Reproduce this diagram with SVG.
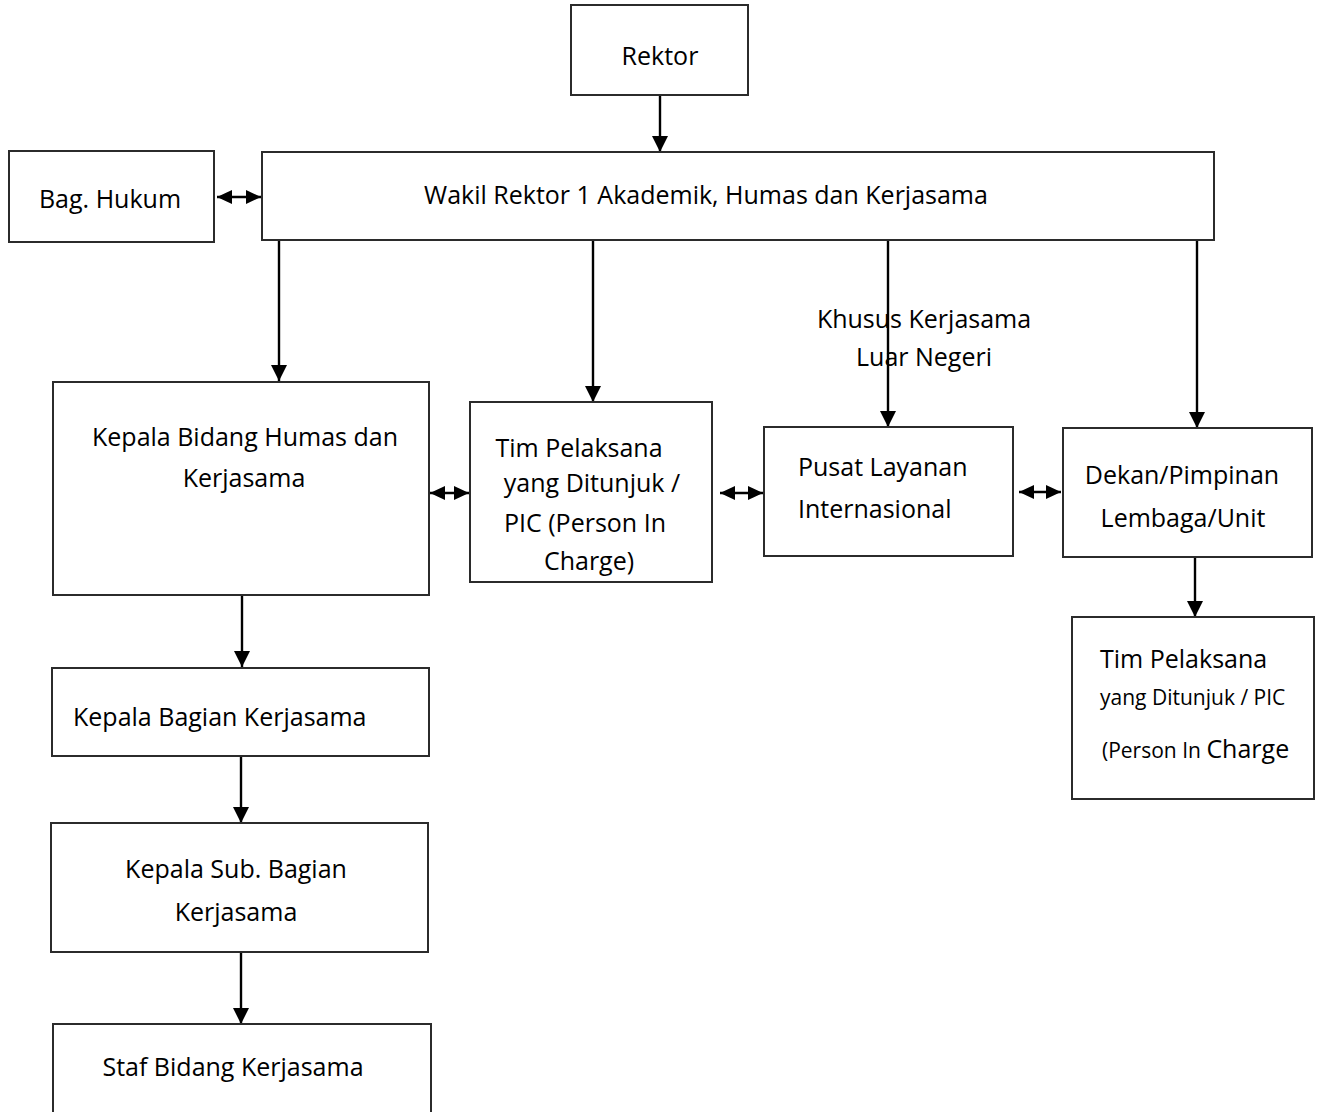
<svg xmlns="http://www.w3.org/2000/svg" width="1318" height="1112" viewBox="0 0 1318 1112">
<style>
.box{fill:#fff;stroke:#2b2b2b;stroke-width:2}
.t{font-family:"Open Sans","Noto Sans",sans-serif;font-size:25px;fill:#000}
.s{font-size:21px}
.ct{stroke:#000;stroke-width:2.4;fill:none;marker-end:url(#ah)}
.cb{stroke:#000;stroke-width:2.4;fill:none;marker-end:url(#ah2);marker-start:url(#as2)}
</style>
<defs>
<marker id="ah" markerWidth="16" markerHeight="16" refX="16" refY="8" orient="auto" markerUnits="userSpaceOnUse"><path d="M0,0 L16,8 L0,16 Z" fill="#000"/></marker>
<marker id="ah2" markerWidth="15" markerHeight="14" refX="15" refY="7" orient="auto" markerUnits="userSpaceOnUse"><path d="M0,0 L15,7 L0,14 Z" fill="#000"/></marker>
<marker id="as2" markerWidth="15" markerHeight="14" refX="0" refY="7" orient="auto" markerUnits="userSpaceOnUse"><path d="M15,0 L0,7 L15,14 Z" fill="#000"/></marker>
</defs>
<rect width="1318" height="1112" fill="#fff"/>
<g id="connectors">
<line class="ct" x1="660" y1="95" x2="660" y2="152"/>
<line class="ct" x1="279" y1="241" x2="279" y2="381"/>
<line class="ct" x1="593" y1="241" x2="593" y2="402"/>
<line class="ct" x1="888" y1="241" x2="888" y2="427"/>
<line class="ct" x1="1197" y1="241" x2="1197" y2="428"/>
<line class="ct" x1="242" y1="595" x2="242" y2="667"/>
<line class="ct" x1="241" y1="757" x2="241" y2="823"/>
<line class="ct" x1="241" y1="953" x2="241" y2="1024"/>
<line class="ct" x1="1195" y1="558" x2="1195" y2="617"/>
<line class="cb" x1="217" y1="197" x2="261" y2="197"/>
<line class="cb" x1="430" y1="493" x2="469" y2="493"/>
<line class="cb" x1="720" y1="493" x2="763" y2="493"/>
<line class="cb" x1="1019" y1="492" x2="1061" y2="492"/>
</g>
<g id="rektor"><rect class="box" x="571" y="5" width="177" height="90"/><text class="t" x="660" y="65" text-anchor="middle">Rektor</text></g>
<g id="wakil"><rect class="box" x="262" y="152" width="952" height="88"/><text class="t" x="706" y="204" text-anchor="middle">Wakil Rektor 1 Akademik, Humas dan Kerjasama</text></g>
<g id="hukum"><rect class="box" x="9" y="151" width="205" height="91"/><text class="t" x="110" y="208" text-anchor="middle">Bag. Hukum</text></g>
<g id="label-khusus"><text class="t" x="924" y="328" text-anchor="middle">Khusus Kerjasama</text><text class="t" x="924" y="366" text-anchor="middle">Luar Negeri</text></g>
<g id="kabid"><rect class="box" x="53" y="382" width="376" height="213"/><text class="t" x="245" y="446" text-anchor="middle">Kepala Bidang Humas dan</text><text class="t" x="244" y="487" text-anchor="middle">Kerjasama</text></g>
<g id="tim1"><rect class="box" x="470" y="402" width="242" height="180"/><text class="t" x="579" y="457" text-anchor="middle">Tim Pelaksana</text><text class="t" x="592" y="492" text-anchor="middle">yang Ditunjuk /</text><text class="t" x="585" y="532" text-anchor="middle">PIC (Person In</text><text class="t" x="589" y="570" text-anchor="middle">Charge)</text></g>
<g id="pusat"><rect class="box" x="764" y="427" width="249" height="129"/><text class="t" x="798" y="476">Pusat Layanan</text><text class="t" x="798" y="518">Internasional</text></g>
<g id="dekan"><rect class="box" x="1063" y="428" width="249" height="129"/><text class="t" x="1182" y="484" text-anchor="middle">Dekan/Pimpinan</text><text class="t" x="1183" y="527" text-anchor="middle">Lembaga/Unit</text></g>
<g id="tim2"><rect class="box" x="1072" y="617" width="242" height="182"/><text class="t" x="1100" y="668">Tim Pelaksana</text><text class="t s" x="1100" y="705">yang Ditunjuk / PIC</text><text class="t" x="1102" y="758"><tspan class="s">(Person In </tspan>Charge</text></g>
<g id="kabag"><rect class="box" x="52" y="668" width="377" height="88"/><text class="t" x="73" y="726">Kepala Bagian Kerjasama</text></g>
<g id="kasubag"><rect class="box" x="51" y="823" width="377" height="129"/><text class="t" x="236" y="878" text-anchor="middle">Kepala Sub. Bagian</text><text class="t" x="236" y="921" text-anchor="middle">Kerjasama</text></g>
<g id="staf"><rect class="box" x="53" y="1024" width="378" height="100"/><text class="t" x="233" y="1076" text-anchor="middle">Staf Bidang Kerjasama</text></g>
</svg>
